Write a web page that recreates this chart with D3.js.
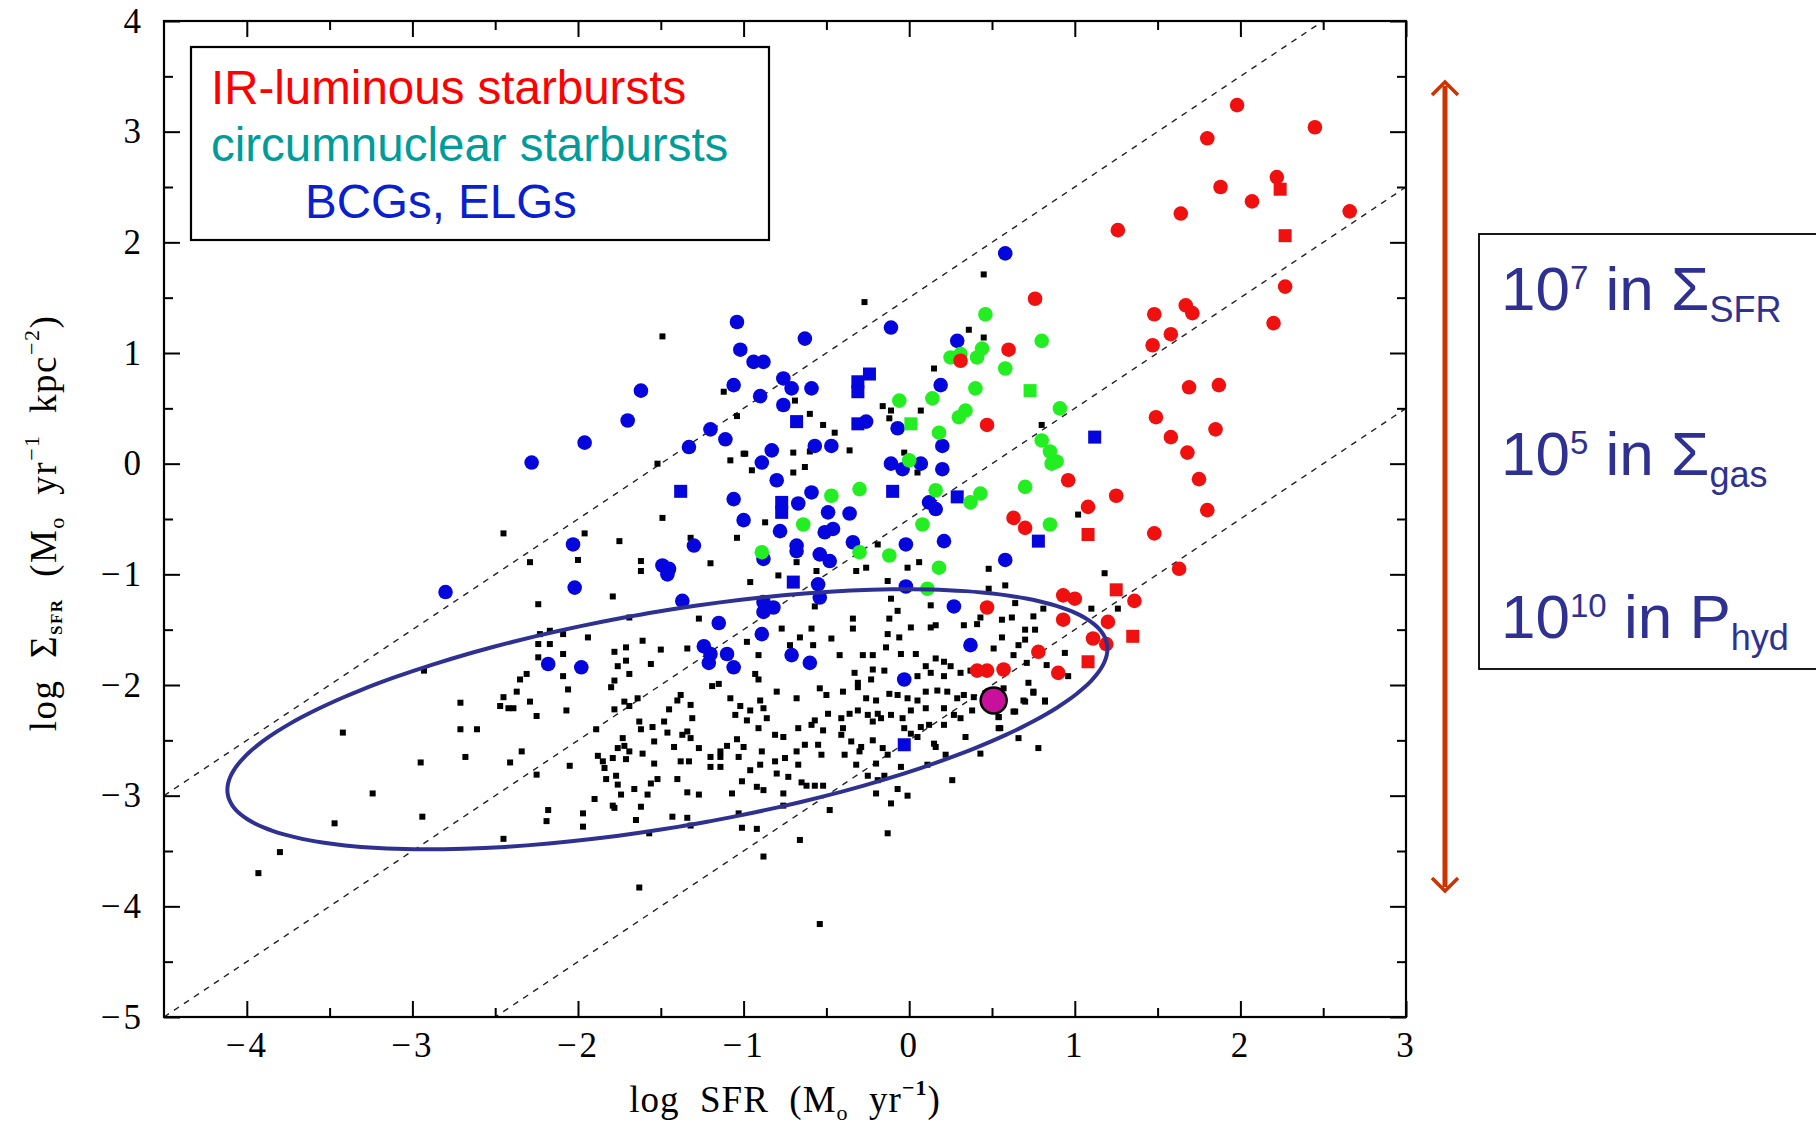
<!DOCTYPE html>
<html>
<head>
<meta charset="utf-8">
<script src="https://cdn.jsdelivr.net/npm/d3@7"></script>
<style>
  html, body { margin: 0; padding: 0; background: #fff; }
  svg { display: block; }
</style>
</head>
<body>
<script>
// ---- data (log SFR, log Sigma_SFR) ----
const xTicks = [-4, -3, -2, -1, 0, 1, 2, 3];
const yTicks = [-5, -4, -3, -2, -1, 0, 1, 2, 3, 4];
const xMinor = [-3.5, -2.5, -1.5, -0.5, 0.5, 1.5, 2.5];
const yMinor = [-4.5, -3.5, -2.5, -1.5, -0.5, 0.5, 1.5, 2.5, 3.5];

// dashed lines of constant gas depletion: y = x + offset
const lineOffsets = [1.5, -0.5, -2.5];

// ellipse drawn around the normal spirals: centre and two conjugate half-axes
const ellipseCentre = [-1.46, -2.31];
const ellipseAxisA = [2.655, 0.678];
const ellipseAxisB = [-0.11, 0.96];

const markedGalaxy = [0.51, -2.14];

const irCircles = [
  [1.98, 3.24], [2.45, 3.04], [1.80, 2.94], [2.22, 2.59], [1.88, 2.50], [2.07, 2.37], [1.64, 2.26],
  [2.66, 2.28], [1.26, 2.11], [2.27, 1.60], [0.76, 1.49], [1.48, 1.35], [1.67, 1.43], [1.71, 1.36],
  [1.58, 1.17], [1.47, 1.07], [2.20, 1.27], [0.60, 1.03], [1.69, 0.69], [1.87, 0.71], [0.31, 0.93],
  [0.47, 0.35], [1.49, 0.42], [1.85, 0.31], [1.58, 0.24], [1.68, 0.10], [1.75, -0.14], [1.80, -0.42],
  [1.48, -0.63], [0.96, -0.15], [1.25, -0.29], [1.08, -0.39], [0.63, -0.49], [0.70, -0.58], [1.63, -0.95],
  [0.93, -1.19], [1.00, -1.22], [1.36, -1.24], [0.93, -1.41], [1.20, -1.43], [1.11, -1.58], [1.19, -1.63],
  [0.78, -1.70], [0.90, -1.89], [0.57, -1.86], [0.47, -1.30], [0.41, -1.87], [0.47, -1.87]
];
const irSquares = [[2.24, 2.48], [2.27, 2.06], [1.08, -0.64], [1.25, -1.14], [1.35, -1.56], [1.08, -1.79]];

const cnCircles = [
  [0.46, 1.35], [0.25, 0.96], [0.31, 0.99], [0.41, 0.96], [0.44, 1.04], [0.14, 0.59], [-0.06, 0.57],
  [0.30, 0.42], [0.34, 0.48], [0.40, 0.68], [0.18, 0.28], [0.00, 0.03], [-0.30, -0.23], [-0.47, -0.29],
  [0.16, -0.24], [0.37, -0.35], [0.43, -0.27], [0.80, 1.11], [0.58, 0.86], [0.91, 0.50], [0.80, 0.21],
  [0.85, 0.11], [0.89, 0.02], [0.86, 0.00], [0.70, -0.21], [0.85, -0.55], [-0.89, -0.80], [-0.64, -0.55],
  [-0.30, -0.80], [-0.12, -0.83], [0.18, -0.94], [0.11, -1.13], [0.08, -0.55]
];
const cnSquares = [[0.01, 0.36], [0.73, 0.66]];

const bcgCircles = [
  [-1.04, 1.28], [-1.02, 1.03], [-1.06, 0.71], [-1.62, 0.66], [-1.70, 0.39], [-1.96, 0.19], [-2.28, 0.01],
  [-1.20, 0.31], [-1.33, 0.15], [-1.11, 0.22], [-1.06, -0.32], [-1.00, -0.51], [-2.03, -0.73], [-1.30, -0.74],
  [-1.49, -0.92], [-1.45, -0.95], [-0.63, 1.13], [-0.11, 1.23], [-0.94, 0.92], [-0.88, 0.92], [-0.76, 0.77],
  [-0.71, 0.68], [-0.59, 0.68], [-0.90, 0.61], [-0.76, 0.53], [-0.26, 0.38], [-0.57, 0.16], [-0.47, 0.16],
  [-0.83, 0.12], [-0.89, 0.01], [-0.80, -0.15], [-0.59, -0.26], [-0.67, -0.36], [-0.49, -0.44], [-0.36, -0.45],
  [-0.11, 0.00], [-0.04, -0.05], [0.07, 0.00], [-0.07, 0.32], [0.19, 0.71], [0.29, 1.11], [0.20, 0.16],
  [0.20, -0.05], [0.12, -0.35], [0.16, -0.41], [0.58, 1.90], [0.58, -0.87], [-0.78, -0.61], [-0.68, -0.74],
  [-0.68, -0.79], [-0.51, -0.62], [-0.46, -0.59], [-0.88, -0.86], [-0.54, -0.82], [-0.48, -0.88], [-0.34, -0.71],
  [-0.02, -0.73], [0.21, -0.70], [-0.55, -1.09], [-0.54, -1.21], [-0.88, -1.25], [-0.82, -1.30], [-0.88, -1.34],
  [-0.02, -1.11], [0.27, -1.29], [-0.89, -1.54], [-0.71, -1.73], [-0.60, -1.80], [0.37, -1.64], [-0.03, -1.95],
  [-2.80, -1.16], [-2.02, -1.12], [-1.46, -1.00], [-1.37, -1.24], [-1.15, -1.44], [-2.18, -1.81], [-1.98, -1.84],
  [-1.24, -1.65], [-1.20, -1.72], [-1.21, -1.80], [-1.10, -1.72], [-1.06, -1.84]
];
const bcgSquares = [
  [-1.38, -0.25], [-0.68, 0.38], [-0.31, 0.74], [-0.24, 0.81], [-0.31, 0.65], [-0.31, 0.36], [-0.77, -0.35],
  [-0.77, -0.44], [-0.70, -1.07], [-0.10, -0.25], [0.29, -0.30], [1.12, 0.24], [0.78, -0.70], [-0.03, -2.54]
];

const spirals = [
  [-1.49, 1.15], [-1.12, 0.65], [-1.04, 0.43], [-1.52, 0.00], [-1.08, 0.03], [-1.00, 0.09], [-1.49, -0.49],
  [-2.45, -0.63], [-1.96, -0.63], [-1.75, -0.70], [-1.04, -0.67], [-2.29, -0.89], [-2.00, -0.87], [-1.62, -0.88],
  [-1.62, -0.97], [-1.20, -0.90], [-1.32, -0.67],
  [-0.27, 1.46], [0.45, 1.71], [0.36, 1.21], [0.45, 1.14], [0.15, 0.86], [-0.69, 0.57], [-0.60, 0.45],
  [-0.52, 0.35], [-0.45, 0.28], [-0.16, 0.52], [-0.11, 0.48], [-0.12, 0.41], [0.07, 0.48], [-0.70, 0.10],
  [-0.60, 0.11], [-0.36, 0.12], [-0.99, 0.09], [-0.63, -0.03], [-0.70, -0.08], [-0.95, -0.06], [-0.03, 0.10],
  [0.05, -0.08],
  [0.80, 0.35], [1.02, -0.46], [1.18, -0.99], [0.58, -1.10], [1.10, -1.31], [1.26, -1.31], [0.64, -1.26],
  [0.81, -1.31], [0.62, -1.39], [0.75, -1.38], [0.56, -1.41], [0.70, -1.50], [0.76, -1.50], [0.56, -1.57],
  [0.70, -1.59], [0.66, -1.64], [0.94, -1.71], [0.63, -1.73], [0.83, -1.82], [0.71, -1.80], [0.96, -1.92],
  [0.72, -1.98], [0.75, -2.07], [0.70, -2.15], [0.82, -2.15], [0.64, -2.24], [0.54, -2.29], [0.55, -2.39],
  [0.51, -1.67],
  [-0.87, -0.53], [-0.68, -0.89], [-0.79, -1.01], [-0.96, -1.07], [-0.56, -0.97], [-0.32, -0.97], [-0.26, -0.94],
  [-0.19, -0.73], [0.06, -0.89], [-0.01, -0.94], [-0.13, -1.06], [-0.11, -1.22], [-0.07, -1.33], [-0.12, -1.40],
  [0.13, -1.28], [-0.57, -1.29], [-0.34, -1.40], [-0.34, -1.49], [-0.59, -1.49], [-0.77, -1.49], [-0.66, -1.57],
  [-0.47, -1.58], [-0.58, -1.64], [-0.98, -1.61], [-0.72, -1.64], [-0.13, -1.54], [-0.06, -1.57], [0.01, -1.48],
  [0.13, -1.48], [0.16, -1.46], [0.33, -1.46], [0.41, -1.45], [0.43, -1.39], [0.48, -0.95], [0.48, -1.13],
  [-0.42, -1.73], [-0.28, -1.73], [-0.22, -1.73], [-0.14, -1.66], [-0.05, -1.72], [0.04, -1.72], [0.10, -1.83],
  [0.16, -1.76], [0.21, -1.79], [0.25, -1.83], [-0.91, -1.73], [-0.93, -1.90], [-0.91, -1.95], [-0.33, -1.89],
  [-0.22, -1.86], [-0.15, -1.87], [-0.23, -1.95], [-0.31, -1.98], [0.05, -1.92], [0.13, -1.89], [0.21, -1.92],
  [0.31, -1.89], [0.37, -1.87],
  [-2.24, -1.27], [-1.79, -1.20], [-1.69, -1.39], [-1.27, -1.40], [-2.23, -1.54], [-2.17, -1.51], [-2.09, -1.54],
  [-2.24, -1.63], [-2.17, -1.63], [-1.94, -1.57], [-1.61, -1.60], [-1.78, -1.70], [-1.71, -1.66], [-1.50, -1.68],
  [-1.56, -1.81], [-1.71, -1.78], [-1.34, -1.67], [-2.09, -1.72], [-2.24, -1.75], [-2.09, -1.92], [-1.76, -1.83],
  [-1.69, -1.90], [-1.78, -1.96], [-1.80, -2.02], [-2.93, -1.87], [-2.31, -1.90], [-2.35, -1.95], [-2.37, -2.06],
  [-2.06, -2.04], [-2.45, -2.11], [-2.29, -2.15], [-2.47, -2.19], [-2.42, -2.21], [-2.39, -2.21], [-2.71, -2.16],
  [-2.25, -2.28], [-2.07, -2.23], [-1.78, -2.22], [-1.69, -2.19], [-1.72, -2.15], [-1.64, -2.12], [-1.38, -2.09],
  [-1.31, -2.30], [-1.40, -2.14], [-1.45, -2.22], [-1.32, -2.18], [-1.55, -2.38], [-1.48, -2.33], [-1.63, -2.33],
  [-1.62, -2.40], [-1.08, -2.12], [-1.02, -2.19], [-1.05, -2.27], [-1.19, -2.01], [-1.15, -1.99], [-3.42, -2.43],
  [-2.71, -2.40], [-2.61, -2.40], [-1.89, -2.40], [-1.73, -2.48], [-1.72, -2.55], [-1.69, -2.60], [-1.76, -2.57],
  [-1.54, -2.51], [-1.46, -2.43], [-1.37, -2.45], [-1.34, -2.42], [-1.32, -2.48], [-1.42, -2.56], [-1.27, -2.57],
  [-1.14, -2.60], [-1.10, -2.55], [-1.04, -2.49], [-1.61, -2.62], [-1.54, -2.71], [-1.38, -2.69], [-1.33, -2.69],
  [-1.20, -2.65], [-1.14, -2.65], [-1.20, -2.74], [-1.14, -2.74], [-1.03, -2.65], [-2.34, -2.60], [-2.68, -2.65],
  [-2.95, -2.70], [-2.41, -2.70], [-2.05, -2.73], [-1.88, -2.64], [-1.85, -2.69], [-1.84, -2.75], [-1.79, -2.66],
  [-1.71, -2.67], [-2.25, -2.81], [-1.83, -2.85], [-1.77, -2.82], [-1.76, -2.90], [-1.66, -2.94], [-1.56, -2.89],
  [-1.58, -2.99], [-1.52, -2.85], [-1.40, -2.85], [-1.34, -2.97], [-1.27, -2.99], [-1.07, -2.98], [-1.01, -2.87],
  [-1.90, -3.03], [-1.74, -2.99], [-1.79, -3.09], [-1.78, -3.11], [-1.62, -3.10], [-3.24, -2.98], [-3.47, -3.25],
  [-2.94, -3.19], [-2.45, -3.39], [-2.18, -3.13], [-2.19, -3.23], [-1.97, -3.16], [-1.97, -3.28], [-1.65, -3.22],
  [-1.57, -3.34], [-1.43, -3.19], [-1.34, -3.20], [-1.32, -3.27], [-1.03, -3.16], [-1.01, -3.29], [-3.80, -3.51],
  [-3.93, -3.70], [-1.63, -3.83],
  [-0.80, -2.06], [-0.68, -2.12], [-0.54, -2.03], [-0.50, -2.09], [-0.40, -2.06], [-0.31, -2.02], [-0.26, -2.12],
  [-0.20, -2.14], [-0.12, -2.08], [-0.07, -2.09], [-0.01, -2.12], [0.10, -2.06], [0.17, -2.05], [0.23, -2.06],
  [0.29, -2.12], [0.05, -2.14], [0.33, -2.09], [-0.90, -2.14], [0.57, -2.03], [0.69, -2.14], [0.75, -2.06],
  [0.82, -2.14], [0.39, -2.11], [-0.96, -2.23], [-0.88, -2.21], [-0.98, -2.32], [-0.91, -2.39], [-0.86, -2.30],
  [-0.81, -2.45], [-0.76, -2.47], [-0.67, -2.39], [-0.59, -2.36], [-0.57, -2.32], [-0.52, -2.41], [-0.49, -2.26],
  [-0.41, -2.30], [-0.36, -2.26], [-0.31, -2.23], [-0.25, -2.27], [-0.19, -2.26], [-0.22, -2.33], [-0.17, -2.30],
  [-0.11, -2.27], [-0.04, -2.30], [0.01, -2.23], [0.10, -2.21], [0.21, -2.21], [0.27, -2.27], [0.31, -2.30],
  [0.38, -2.23], [0.12, -2.36], [0.07, -2.38], [0.21, -2.36], [0.54, -2.29], [0.54, -2.39], [0.63, -2.24],
  [-0.03, -2.39], [0.01, -2.44], [-0.40, -2.39], [-1.00, -2.56], [-0.89, -2.60], [-0.81, -2.69], [-0.75, -2.66],
  [-0.68, -2.60], [-0.63, -2.54], [-0.55, -2.54], [-0.53, -2.63], [-0.41, -2.45], [-0.35, -2.51], [-0.29, -2.56],
  [-0.22, -2.50], [-0.16, -2.57], [-0.39, -2.63], [-0.30, -2.60], [-0.13, -2.63], [0.05, -2.47], [0.15, -2.53],
  [0.16, -2.56], [0.22, -2.63], [0.34, -2.47], [0.78, -2.57], [0.66, -2.48], [0.43, -2.62], [-0.96, -2.77],
  [-0.90, -2.72], [-0.80, -2.80], [-0.73, -2.83], [-0.67, -2.72], [-0.65, -2.88], [-0.62, -2.91], [-0.57, -2.91],
  [-0.52, -2.91], [-0.92, -2.92], [-0.88, -2.95], [-0.76, -2.98], [-0.32, -2.72], [-0.25, -2.82], [-0.19, -2.86],
  [-0.15, -2.82], [-0.20, -2.71], [-0.05, -2.74], [0.11, -2.72], [0.26, -2.86], [-0.07, -2.94], [-0.01, -3.00],
  [-0.20, -2.98], [-0.11, -3.07], [-0.76, -3.09], [-0.48, -3.13], [-0.92, -3.30], [-0.66, -3.40], [-0.13, -3.34],
  [-0.88, -3.55], [-0.54, -4.16]
];

const legendLines = [
  { text: "IR-luminous starbursts", color: "#ff0000", indent: 0 },
  { text: "circumnuclear starbursts", color: "#009c99", indent: 0 },
  { text: "BCGs, ELGs", color: "#0a1fd0", indent: 94 }
];

// ---- layout ----
const width = 1816, height = 1126;
const margin = { top: 21, right: 410, bottom: 109, left: 164 };

const x = d3.scaleLinear().domain([-4.5, 3]).range([margin.left, width - margin.right]);
const y = d3.scaleLinear().domain([-5, 4]).range([height - margin.bottom, margin.top]);

const svg = d3.select("body").append("svg")
  .attr("width", width)
  .attr("height", height)
  .style("background", "#fff");

const serif = "'Liberation Serif', 'Times New Roman', serif";
const sans = "'Liberation Sans', Arial, sans-serif";

svg.append("clipPath").attr("id", "plotclip")
  .append("rect")
  .attr("x", x(-4.5)).attr("y", y(4))
  .attr("width", x(3) - x(-4.5)).attr("height", y(-5) - y(4));

const plot = svg.append("g").attr("clip-path", "url(#plotclip)");

// dashed diagonal lines
const diag = d3.line().x(d => x(d[0])).y(d => y(d[1]));
lineOffsets.forEach(c => {
  plot.append("path")
    .datum([[-4.5, -4.5 + c], [3, 3 + c]])
    .attr("d", diag)
    .attr("fill", "none")
    .attr("stroke", "#222")
    .attr("stroke-width", 1.4)
    .attr("stroke-dasharray", "6,6");
});

// black small squares: normal spirals
plot.selectAll(".sp").data(spirals).enter().append("rect")
  .attr("class", "sp")
  .attr("x", d => x(d[0]) - 3)
  .attr("y", d => y(d[1]) - 3)
  .attr("width", 6).attr("height", 6)
  .attr("fill", "#000");

function circles(data, color) {
  plot.append("g").selectAll("circle").data(data).enter().append("circle")
    .attr("cx", d => x(d[0]))
    .attr("cy", d => y(d[1]))
    .attr("r", 7.3)
    .attr("fill", color);
}
function squares(data, color) {
  plot.append("g").selectAll("rect").data(data).enter().append("rect")
    .attr("x", d => x(d[0]) - 6.5)
    .attr("y", d => y(d[1]) - 6.5)
    .attr("width", 13).attr("height", 13)
    .attr("fill", color);
}

const cBlue = "#0505dd", cGreen = "#22ee22", cRed = "#f01010";
circles(bcgCircles, cBlue);
squares(bcgSquares, cBlue);
circles(cnCircles, cGreen);
squares(cnSquares, cGreen);
circles(irCircles, cRed);
squares(irSquares, cRed);

// ellipse
const ts = d3.range(0, 361, 3).map(a => a * Math.PI / 180);
const ell = ts.map(t => [
  ellipseCentre[0] + ellipseAxisA[0] * Math.cos(t) + ellipseAxisB[0] * Math.sin(t),
  ellipseCentre[1] + ellipseAxisA[1] * Math.cos(t) + ellipseAxisB[1] * Math.sin(t)
]);
plot.append("path")
  .datum(ell)
  .attr("d", d3.line().x(d => x(d[0])).y(d => y(d[1])).curve(d3.curveCardinalClosed))
  .attr("fill", "none")
  .attr("stroke", "#2e3192")
  .attr("stroke-width", 4);

// highlighted galaxy
plot.append("circle")
  .attr("cx", x(markedGalaxy[0]))
  .attr("cy", y(markedGalaxy[1]))
  .attr("r", 13)
  .attr("fill", "#c8119b")
  .attr("stroke", "#000")
  .attr("stroke-width", 2.5);

// ---- axes (ticks on all four sides, pointing inwards) ----
function styleAxis(g) {
  g.select(".domain").remove();
  g.selectAll(".tick line").attr("stroke", "#000").attr("stroke-width", 2);
  g.selectAll("text").attr("font-family", serif).attr("font-size", 35)
    .attr("letter-spacing", 3).attr("fill", "#000");
}
const xB = svg.append("g").attr("transform", `translate(0,${y(-5)})`)
  .call(d3.axisBottom(x).tickValues(xTicks).tickSize(-16).tickPadding(15).tickFormat(d3.format("d")));
styleAxis(xB);
xB.selectAll("text").attr("dy", "0.71em");
svg.append("g").attr("transform", `translate(0,${y(-5)})`)
  .call(d3.axisBottom(x).tickValues(xMinor).tickSize(-9).tickFormat("")).call(styleAxis);
svg.append("g").attr("transform", `translate(0,${y(4)})`)
  .call(d3.axisTop(x).tickValues(xTicks).tickSize(-16).tickFormat("")).call(styleAxis);
svg.append("g").attr("transform", `translate(0,${y(4)})`)
  .call(d3.axisTop(x).tickValues(xMinor).tickSize(-9).tickFormat("")).call(styleAxis);

const yL = svg.append("g").attr("transform", `translate(${x(-4.5)},0)`)
  .call(d3.axisLeft(y).tickValues(yTicks).tickSize(-16).tickPadding(20).tickFormat(d3.format("d")));
styleAxis(yL);
svg.append("g").attr("transform", `translate(${x(-4.5)},0)`)
  .call(d3.axisLeft(y).tickValues(yMinor).tickSize(-9).tickFormat("")).call(styleAxis);
svg.append("g").attr("transform", `translate(${x(3)},0)`)
  .call(d3.axisRight(y).tickValues(yTicks).tickSize(-16).tickFormat("")).call(styleAxis);
svg.append("g").attr("transform", `translate(${x(3)},0)`)
  .call(d3.axisRight(y).tickValues(yMinor).tickSize(-9).tickFormat("")).call(styleAxis);

// frame
svg.append("rect")
  .attr("x", x(-4.5)).attr("y", y(4))
  .attr("width", x(3) - x(-4.5)).attr("height", y(-5) - y(4))
  .attr("fill", "none").attr("stroke", "#000").attr("stroke-width", 2.2);

// axis titles
const xt = svg.append("text")
  .attr("x", (x(-4.5) + x(3)) / 2).attr("y", 1112)
  .attr("text-anchor", "middle")
  .attr("font-family", serif).attr("font-size", 37).attr("fill", "#000")
  .attr("letter-spacing", 1)
  .attr("xml:space", "preserve");
xt.append("tspan").text("log  SFR  (M");
xt.append("tspan").attr("font-size", 22).attr("dy", 8).text("o");
xt.append("tspan").attr("dy", -8).text("  yr");
xt.append("tspan").attr("font-size", 22).attr("dy", -17).attr("font-weight", "bold").text("−1");
xt.append("tspan").attr("dy", 17).text(")");

const yt = svg.append("text")
  .attr("transform", `translate(56,${(y(-5) + y(4)) / 2 + 4}) rotate(-90)`)
  .attr("text-anchor", "middle")
  .attr("font-family", serif).attr("font-size", 37).attr("fill", "#000")
  .attr("letter-spacing", 1.5)
  .attr("xml:space", "preserve");
yt.append("tspan").text("log  Σ");
yt.append("tspan").attr("font-size", 17).attr("dy", 6).attr("font-weight", "bold").text("SFR");
yt.append("tspan").attr("dy", -6).text("  (M");
yt.append("tspan").attr("font-size", 22).attr("dy", 8).text("o");
yt.append("tspan").attr("dy", -8).text("  yr");
yt.append("tspan").attr("font-size", 22).attr("dy", -17).text("−1");
yt.append("tspan").attr("dy", 17).text("  kpc");
yt.append("tspan").attr("font-size", 22).attr("dy", -17).text("−2");
yt.append("tspan").attr("dy", 17).text(")");

// ---- legend box inside the plot ----
svg.append("rect")
  .attr("x", 191).attr("y", 47).attr("width", 578).attr("height", 193)
  .attr("fill", "#fff").attr("stroke", "#000").attr("stroke-width", 2.2);
svg.selectAll(".leg").data(legendLines).enter().append("text")
  .attr("class", "leg")
  .attr("x", d => 211 + d.indent)
  .attr("y", (d, i) => 104 + i * 57)
  .attr("font-family", sans).attr("font-size", 47.5)
  .attr("fill", d => d.color)
  .text(d => d.text);

// ---- red double arrow ----
const arrowColor = "#cc3300";
const ax = 1445, aTop = 82, aBot = 891;
svg.append("line")
  .attr("x1", ax).attr("x2", ax).attr("y1", aTop + 4).attr("y2", aBot - 4)
  .attr("stroke", arrowColor).attr("stroke-width", 5);
svg.append("path")
  .attr("d", `M${ax - 13},${aTop + 13} L${ax},${aTop} L${ax + 13},${aTop + 13}`)
  .attr("fill", "none").attr("stroke", arrowColor).attr("stroke-width", 3.5);
svg.append("path")
  .attr("d", `M${ax - 13},${aBot - 13} L${ax},${aBot} L${ax + 13},${aBot - 13}`)
  .attr("fill", "none").attr("stroke", arrowColor).attr("stroke-width", 3.5);

// ---- right-hand box ----
svg.append("rect")
  .attr("x", 1479).attr("y", 234).attr("width", 360).attr("height", 435)
  .attr("fill", "#fff").attr("stroke", "#000").attr("stroke-width", 1.8);

const boxColor = "#2e3192";
const boxLines = [
  { sup: "7", sym: "Σ", sub: "SFR", base: 310 },
  { sup: "5", sym: "Σ", sub: "gas", base: 475 },
  { sup: "10", sym: "P", sub: "hyd", base: 638 }
];
boxLines.forEach(l => {
  const t = svg.append("text")
    .attr("x", 1501).attr("y", l.base)
    .attr("font-family", sans).attr("font-size", 62).attr("fill", boxColor)
    .attr("xml:space", "preserve");
  t.append("tspan").text("10");
  t.append("tspan").attr("font-size", 33).attr("dy", -21).text(l.sup);
  t.append("tspan").attr("dy", 21).text(" in " + l.sym);
  t.append("tspan").attr("font-size", 36).attr("dy", 12).text(l.sub);
});
</script>
</body>
</html>
